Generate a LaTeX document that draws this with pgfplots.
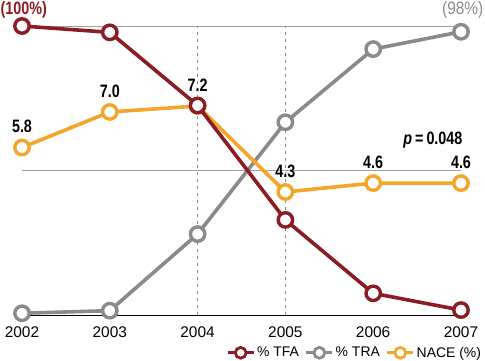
\documentclass[border=0pt]{standalone}
\usepackage{fontspec}
\setmainfont{Liberation Sans}
\newfontfamily\cond[FakeStretch=0.8]{Liberation Sans}
\newfontfamily\condg[FakeStretch=0.86]{Liberation Sans}
\usepackage{pgfplots}
\pgfplotsset{compat=1.18}
\definecolor{cred}{HTML}{8C1B24}
\definecolor{cgray}{HTML}{8A8A8A}
\definecolor{corange}{HTML}{F5A52A}
\definecolor{cgrid}{HTML}{A0A0A0}
\pgfplotstableread{
year tfa tra
2002 100 0.6
2003 97.8 1.5
2004 72.5 28.0
2005 32.9 66.7
2006 7.5 92.0
2007 1.7 98.0
}\pctdata
\pgfplotstableread{
year nace
2002 5.8
2003 7.0
2004 7.2
2005 4.3
2006 4.6
2007 4.6
}\nacedata
\pgfplotsset{
  base/.style={
    scale only axis, width=439bp, height=289bp,
    xmin=2002, xmax=2007, clip=false,
    axis line style={draw=none},
    major tick length=0pt,
    /pgf/number format/assume math mode=true,
  },
  hidden/.style={base, xtick=\empty, ytick=\empty},
  ser/.style={line width=3.6bp, mark=*, mark size=7.2bp,
    mark options={fill=white, line width=3.4bp}},
  limg/.style={legend image code/.code={
    \draw[line width=2.8bp] (0bp,0bp) -- (26bp,0bp);
    \draw[line width=2.8bp, fill=white] (13bp,0bp) circle (5.4bp);}},
}
\begin{document}
\begin{tikzpicture}
\useasboundingbox (-22bp,-46bp) rectangle (463bp,315bp);
% axis 1: grid, TRA
\begin{axis}[base, ymin=0, ymax=100,
  ytick={50,100}, yticklabels={}, ymajorgrids,
  grid style={cgrid, line width=0.9bp},
  xtick={2002,...,2007},
  xticklabel style={font=\fontsize{15.5}{16}\selectfont, anchor=base, yshift=-22bp,
    /pgf/number format/1000 sep={}},
]
\draw[black, line width=1bp] (axis cs:2002,0) -- (axis cs:2007,0);
\draw[cgray, line width=1.5bp, dash pattern=on 3bp off 4bp] (axis cs:2004,0) -- (axis cs:2004,100);
\draw[cgray, line width=1.5bp, dash pattern=on 3bp off 4bp] (axis cs:2005,0) -- (axis cs:2005,100);
\addplot[cgray, ser] table[x=year, y=tra] {\pctdata};
\node[cgray, font=\condg\fontsize{18}{18}\selectfont] at (axis cs:2007.02,105.5) {(98\%)};
\node[cred, font=\cond\bfseries\fontsize{18}{18}\selectfont] at (axis cs:2002.02,105.5) {(100\%)};
\end{axis}
% axis 2: NACE
\begin{axis}[hidden, ymin=0.15, ymax=9.9,
  legend style={draw=none, fill=none, inner sep=0pt, outer sep=0pt,
    at={(axis description cs:1,0)}, anchor=north east, xshift=22bp, yshift=-30bp,
    font=\fontsize{14}{14}\selectfont, legend columns=3,
    /tikz/every even column/.append style={column sep=4bp}},
  legend cell align=left,
]
\addlegendimage{cred, limg}
\addlegendentry{\% TFA}
\addlegendimage{cgray, limg}
\addlegendentry{\% TRA}
\addplot[corange, ser, limg,
  nodes near coords, point meta=y,
  every node near coord/.append style={black, anchor=center, yshift=21bp,
    font=\cond\bfseries\fontsize{18}{18}\selectfont,
    /pgf/number format/.cd, fixed, fixed zerofill, precision=1}]
  table[x=year, y=nace] {\nacedata};
\addlegendentry{NACE (\%)}
\node[black, font=\cond\bfseries\fontsize{18}{18}\selectfont] at (rel axis cs:0.936,0.6055) {\textit{p}\,=\,0.048};
\end{axis}
% axis 3: TFA
\begin{axis}[hidden, ymin=0, ymax=100]
\addplot[cred, ser] table[x=year, y=tfa] {\pctdata};
\end{axis}
\end{tikzpicture}
\end{document}
